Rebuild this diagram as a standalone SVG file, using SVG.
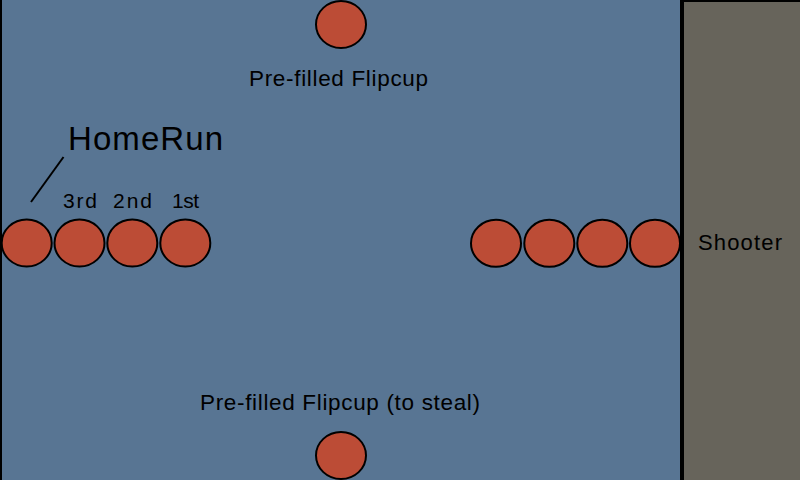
<svg xmlns="http://www.w3.org/2000/svg" width="800" height="480" viewBox="0 0 800 480">
<style>
.cup{fill:#BC4C36;stroke:#000;stroke-width:2}
.t{font-family:"Liberation Sans",Arial,sans-serif;fill:#000}
</style>
<rect x="0" y="0" width="800" height="480" fill="#587593"/>
<line x1="1" y1="0" x2="1" y2="480" stroke="#000" stroke-width="2"/>
<g id="shooter">
<rect x="682" y="0" width="120" height="482" fill="#67645B" stroke="#000" stroke-width="4"/>
<text class="t" x="698" y="250" font-size="22" textLength="84" lengthAdjust="spacing">Shooter</text>
</g>
<g id="top-cup">
<ellipse class="cup" cx="341" cy="24.5" rx="25" ry="23.5"/>
<text class="t" x="249" y="86" font-size="22.5" textLength="179" lengthAdjust="spacing">Pre-filled Flipcup</text>
</g>
<g id="bottom-cup">
<ellipse class="cup" cx="341" cy="455.5" rx="25" ry="23.5"/>
<text class="t" x="200" y="410" font-size="22.5" textLength="280" lengthAdjust="spacing">Pre-filled Flipcup (to steal)</text>
</g>
<g id="left-row">
<ellipse class="cup" cx="26.7" cy="243" rx="25" ry="23.5"/>
<ellipse class="cup" cx="79.5" cy="243" rx="25" ry="23.5"/>
<ellipse class="cup" cx="132.3" cy="243" rx="25" ry="23.5"/>
<ellipse class="cup" cx="185.3" cy="243" rx="25" ry="23.5"/>
</g>
<g id="labels">
<text class="t" x="63" y="208" font-size="21" textLength="34" lengthAdjust="spacing">3rd</text>
<text class="t" x="113" y="208" font-size="21" textLength="39" lengthAdjust="spacing">2nd</text>
<text class="t" x="172" y="208" font-size="21" textLength="27" lengthAdjust="spacing">1st</text>
<text class="t" x="68" y="150" font-size="33" textLength="155" lengthAdjust="spacing">HomeRun</text>
</g>
<g id="right-row">
<ellipse class="cup" cx="496" cy="243.3" rx="25" ry="23.5"/>
<ellipse class="cup" cx="549.3" cy="243.3" rx="25" ry="23.5"/>
<ellipse class="cup" cx="602.3" cy="243.3" rx="25" ry="23.5"/>
<ellipse class="cup" cx="655" cy="243.3" rx="25" ry="23.5"/>
</g>
<g id="connectors">
<line x1="31" y1="202" x2="63.5" y2="157" stroke="#000" stroke-width="2"/>
</g>
</svg>
